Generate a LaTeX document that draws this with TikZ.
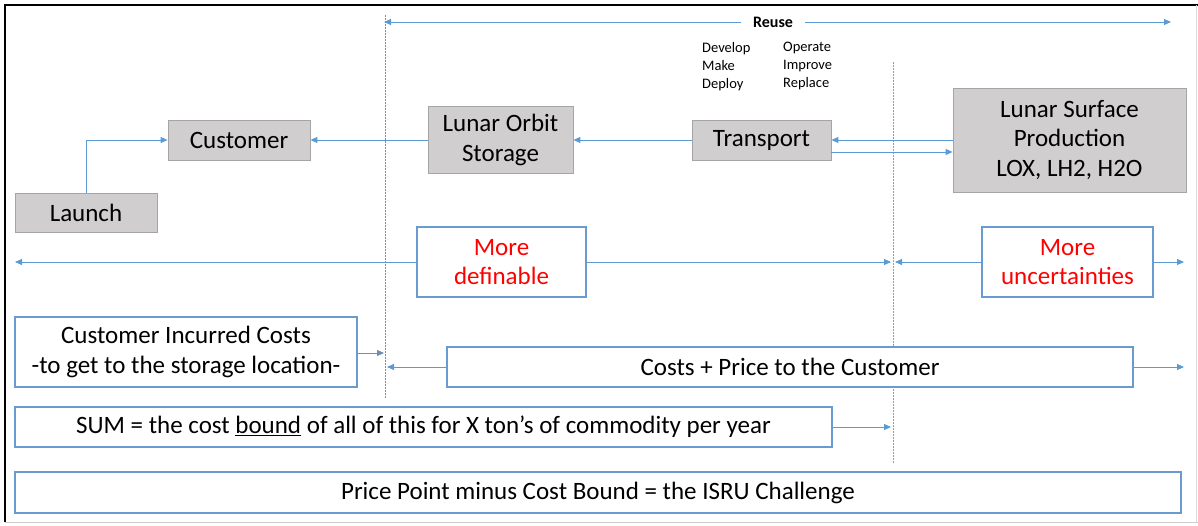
\documentclass[tikz,border=0pt]{standalone}
\usepackage{fontspec}
\setmainfont{Carlito}
\usetikzlibrary{arrows.meta}
\definecolor{boxgray}{HTML}{D0CECE}
\definecolor{boxedge}{HTML}{A5A5A5}
\definecolor{blueline}{HTML}{5B9BD5}
\definecolor{bluebox}{HTML}{6A9BD0}
\definecolor{txtred}{HTML}{FF0000}
\begin{document}
\begin{tikzpicture}[x=1pt,y=-1pt,
  bigfont/.style={font=\fontsize{25}{29.5}\selectfont},
  gbox/.style={draw=boxedge, fill=boxgray, line width=0.8pt, bigfont, align=center, inner sep=0pt},
  bbox/.style={draw=bluebox, line width=1.2pt, fill=white, bigfont, align=center, inner sep=0pt},
  arr/.style={draw=blueline, line width=0.9pt, -{Triangle[length=7pt,width=6pt]}},
  smalltxt/.style={font=\fontsize{14.5}{18}\selectfont, align=left, inner sep=0pt, anchor=north west},
  vline/.style={line width=0.6pt, dash pattern=on 1.5pt off 1.5pt}
]
\useasboundingbox (0,0) rectangle (1198,525);
% frame
\draw[black, line width=2pt] (5,522) -- (5,5) -- (1198,5);
\draw[black!20, line width=0.8pt] (5,522.5) -- (1198,522.5);
\draw[black!15, line width=0.8pt] (1196.5,5) -- (1196.5,522.5);

% dotted vertical lines
\coordinate (v1t) at (385,15);
\coordinate (v1b) at (385,398);
\coordinate (v2t) at (893,62);
\coordinate (v2b) at (893,463);
\draw[vline, draw=blueline!70!gray] (v1t) -- (v1b);
\draw[vline, draw=gray!80] (v2t) -- (v2b);

% Reuse arrow
\node[font=\fontsize{16}{18}\selectfont\bfseries, inner xsep=12pt, inner ysep=0pt] (reuse) at (773,22) {Reuse};
\coordinate (reuseL) at (384,22);
\coordinate (reuseR) at (1171,22);
\draw[arr] (reuse.west) -- (reuseL);
\draw[arr] (reuse.east) -- (reuseR);

% small texts
\node[smalltxt] (dev) at (702,42) {Develop\\Make\\Deploy};
\node[smalltxt] (ope) at (783,42) {Operate\\Improve\\Replace};

% gray boxes
\node[gbox, minimum width=142pt, minimum height=40pt] (cust) at (239,140) {Customer};
\node[gbox, minimum width=142pt, minimum height=39pt] (launch) at (86,212.5) {Launch};
\node[gbox, minimum width=145pt, minimum height=67pt] (orbit) at (500.5,140) {Lunar Orbit\\Storage};
\node[gbox, minimum width=139pt, minimum height=40pt] (transport) at (761.5,140) {Transport};
\node[gbox, minimum width=233pt, minimum height=104pt] (surface) at (1069.5,140) {Lunar Surface\\Production\\LOX, LH2, H2O};

\draw[arr] (launch.north) |- (cust.west);
\draw[arr] (orbit.west) -- (cust.east);
\draw[arr] (transport.west) -- (orbit.east);
\draw[arr] (surface.west) -- (transport.east);
\draw[arr] ([yshift=-12pt]transport.east) -- ([yshift=-12pt]surface.west);

% definable row
\node[bbox, text=txtred, minimum width=169pt, minimum height=70pt] (defin) at (501.5,262) {More\\definable};
\node[bbox, text=txtred, minimum width=171pt, minimum height=70pt] (uncert) at (1067.5,262) {More\\uncertainties};
\coordinate (dL) at (15,262);
\coordinate (dR) at (891,262);
\coordinate (uL) at (895,262);
\coordinate (uR) at (1184,262);
\draw[arr] (defin.west) -- (dL);
\draw[arr] (defin.east) -- (dR);
\draw[arr] (uncert.west) -- (uL);
\draw[arr] (uncert.east) -- (uR);

% cost rows
\node[bbox, minimum width=342pt, minimum height=70pt] (cic) at (186,352) {Customer Incurred Costs\\-to get to the storage location-};
\node[bbox, minimum width=686pt, minimum height=40pt] (cpp) at (790,367) {Costs + Price to the Customer};
\coordinate (cicR) at (384,352);
\coordinate (cppL) at (387,367);
\coordinate (cppR) at (1184,367);
\draw[arr, draw=blueline!60!gray] ([yshift=-1pt]cic.east) -- ([yshift=-1pt]cicR);
\draw[arr] (cpp.west) -- (cppL);
\draw[arr] (cpp.east) -- (cppR);

\node[bbox, minimum width=817pt, minimum height=40pt] (sum) at (423.5,427) {SUM = the cost \underline{bound} of all of this for X ton’s of commodity per year};
\coordinate (sumR) at (891,427);
\draw[arr] (sum.east) -- (sumR);

\node[bbox, minimum width=1166pt, minimum height=41pt] (ppc) at (598,492.5) {Price Point minus Cost Bound = the ISRU Challenge};
\end{tikzpicture}
\end{document}
